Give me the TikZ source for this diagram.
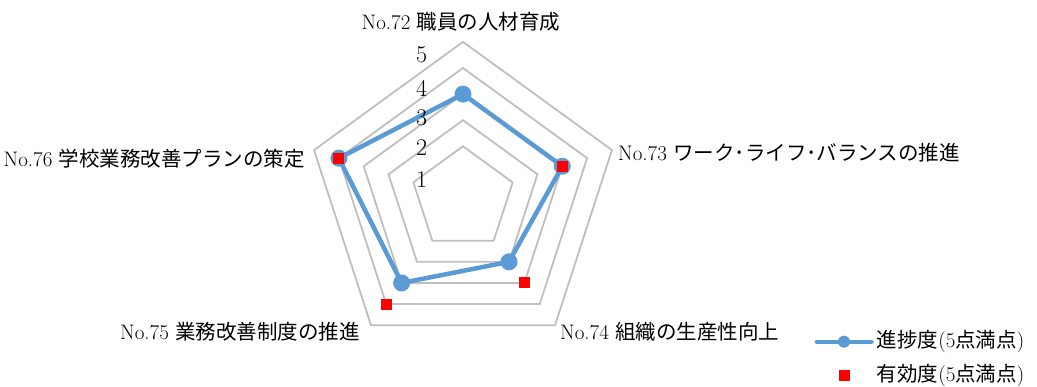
\documentclass[tikz,border=0pt]{standalone}
\usepackage{fontspec}
\newfontfamily\jp{Noto Sans CJK JP}
\definecolor{progblue}{HTML}{5B9BD5}
\definecolor{ringgray}{HTML}{BFBFBF}
\tikzset{
	ring/.style={ringgray, line width=1.8pt},
	prog/.style={progblue, line width=4.5pt, line join=round},
	effsq/.style={rectangle, fill=red, minimum size=11pt, inner sep=0pt},
	itemlab/.style={font=\fontsize{21}{24}\selectfont, inner sep=0pt},
	scalelab/.style={font=\fontsize{24}{28}\selectfont, inner sep=0pt},
}
\newcommand\jpt[1]{{\jp\fontsize{20.5}{24}\selectfont #1}}

\begin{document}
\begin{tikzpicture}[x=1pt, y=1pt]
	\useasboundingbox (0,0) rectangle (1037,387);
	\begin{scope}[shift={(463,188.5)}]
	\foreach \k in {1,...,5} {
		\pgfmathsetmacro\r{26.1*(\k+1)}
		\draw[ring] (90:\r) -- (18:\r) -- (-54:\r) -- (-126:\r) -- (162:\r) -- cycle;
	}
	\coordinate (p72) at (90:104.4);
	\coordinate (p73) at (18:104.4);
	\coordinate (p74) at (-54:78.3);
	\coordinate (p75) at (-126:104.4);
	\coordinate (p76) at (162:130.5);
	\draw[prog] (p72) -- (p73) -- (p74) -- (p75) -- (p76) -- cycle;
	\foreach \p in {p72,p73,p74,p75,p76}
		\fill[progblue] (\p) circle (8.5);
	\node[effsq] (e73) at (18:104.4) {};
	\node[effsq] (e74) at (-54:104.4) {};
	\node[effsq] (e75) at (-126:130.5) {};
	\node[effsq] (e76) at (162:130.5) {};
	\end{scope}
	% scale
	\node[scalelab] (s5) at (421.7,332) {5};
	\node[scalelab] (s4) at (421.7,299) {4};
	\node[scalelab] (s3) at (421.7,269) {3};
	\node[scalelab] (s2) at (421.7,239) {2};
	\node[scalelab] (s1) at (421.7,207) {1};
	% item labels
	\node[itemlab] (l72) at (461,365.3) {No.72 \jpt{職員の人材育成}};
	\node[itemlab, anchor=west] (l73) at (618,234) {No.73 \jpt{ワーク･ライフ･バランスの推進}};
	\node[itemlab, anchor=west] (l74) at (560,55.3) {No.74 \jpt{組織の生産性向上}};
	\node[itemlab, anchor=east] (l75) at (360,55.3) {No.75 \jpt{業務改善制度の推進}};
	\node[itemlab, anchor=east] (l76) at (305,228.7) {No.76 \jpt{学校業務改善プランの策定}};
	% legend
	\coordinate (ls) at (816.7,45.3);
	\coordinate (le) at (871.7,45.3);
	\draw[progblue, line width=4pt, line cap=round] (ls) -- (le);
	\fill[progblue] (844,45.3) circle (6);
	\node[itemlab, anchor=west] (t1) at (876.7,45.3) {\jpt{進捗度}(5\jpt{点満点})};
	\node[effsq] (q2) at (844.3,11) {};
	\node[itemlab, anchor=west] (t2) at (876.7,11) {\jpt{有効度}(5\jpt{点満点})};
\end{tikzpicture}
\end{document}
